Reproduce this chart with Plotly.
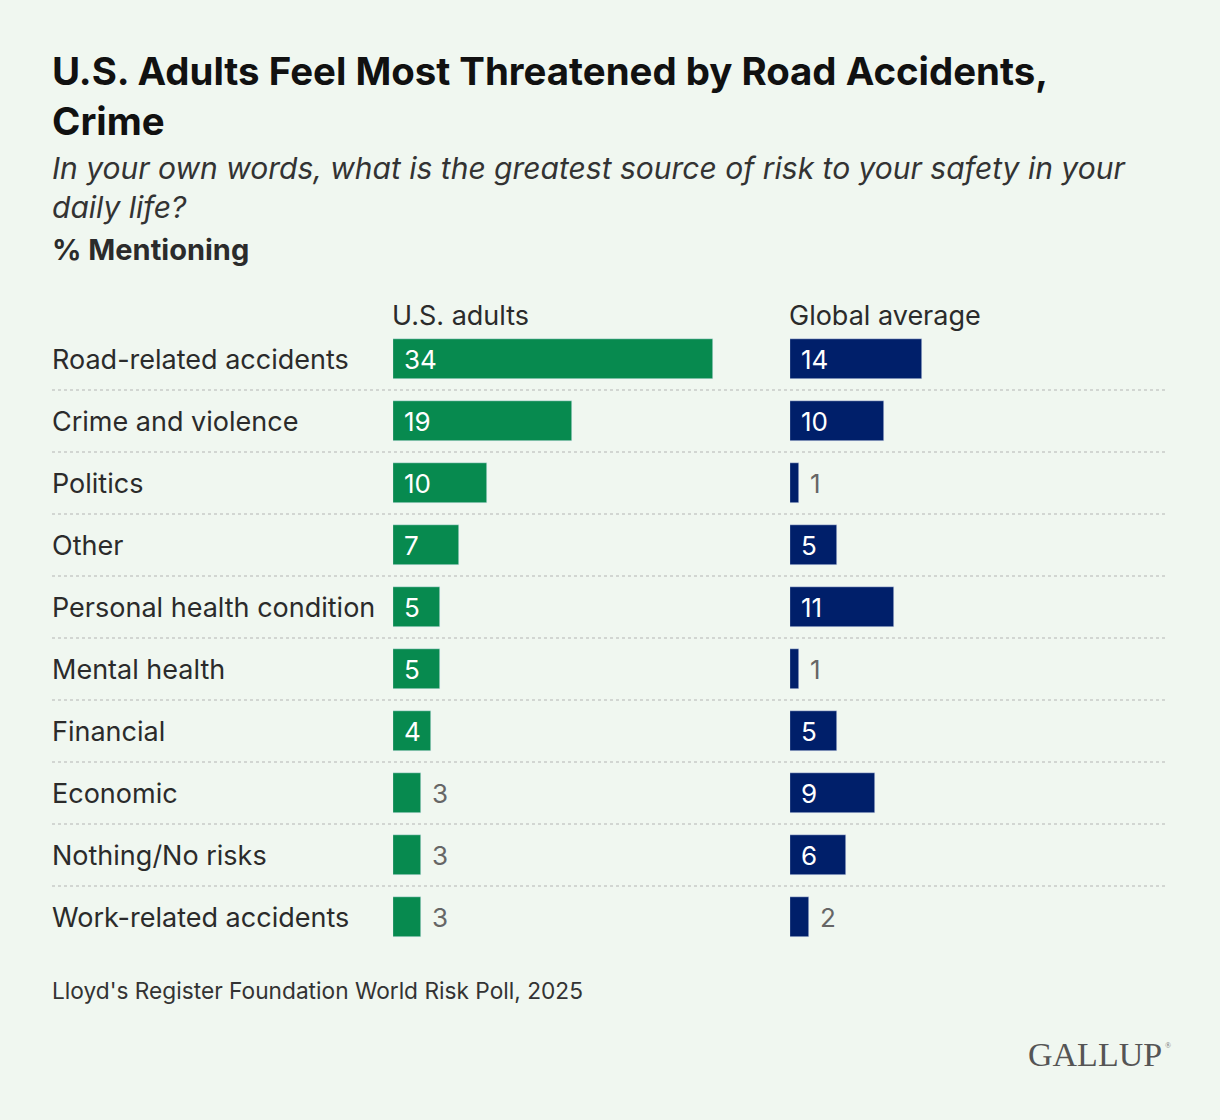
import plotly.graph_objects as go
from plotly.subplots import make_subplots

# data
categories = ["Road-related accidents", "Crime and violence", "Politics", "Other",
              "Personal health condition", "Mental health", "Financial", "Economic",
              "Nothing/No risks", "Work-related accidents"]
us_adults = [34, 19, 10, 7, 5, 5, 4, 3, 3, 3]
global_avg = [14, 10, 1, 5, 11, 1, 5, 9, 6, 2]

W, H = 1220, 1120
BG = "#f0f7f0"
GREEN = "#078a4f"
BLUE = "#001f6a"
FONT = "Inter"
PX = 9.41  # pixels per percentage point

fig = make_subplots(rows=1, cols=2, shared_yaxes=True, horizontal_spacing=0)

fig.add_trace(go.Bar(y=categories, x=us_adults, orientation="h", marker_color=GREEN,
                     width=0.645, hoverinfo="x+y"), row=1, col=1)
fig.add_trace(go.Bar(y=categories, x=global_avg, orientation="h", marker_color=BLUE,
                     width=0.645, hoverinfo="x+y"), row=1, col=2)

x1_0 = 393
x1_r = 38
x2_0 = 790
x2_r = 40
fig.update_xaxes(domain=[x1_0 / W, (x1_0 + PX * x1_r) / W], range=[0, x1_r], row=1, col=1)
fig.update_xaxes(domain=[x2_0 / W, (x2_0 + PX * x2_r) / W], range=[0, x2_r], row=1, col=2)
fig.update_xaxes(visible=False, fixedrange=True)

top, bottom = 328, 948
fig.update_yaxes(domain=[1 - bottom / H, 1 - top / H], range=[9.5, -0.5],
                 categoryorder="array", categoryarray=categories,
                 showticklabels=False, showgrid=False, zeroline=False, fixedrange=True)

annotations = []

# row labels
for c in categories:
    annotations.append(dict(xref="paper", yref="y", x=50 / W, y=c, text=c,
                            xanchor="left", yanchor="middle", showarrow=False,
                            font=dict(family=FONT, size=27, color="#2b2b2b")))

# value labels
def add_values(vals, xref, threshold):
    for c, v in zip(categories, vals):
        if v >= threshold:
            annotations.append(dict(xref=xref, yref="y", x=0, y=c, text=str(v),
                                    xanchor="left", yanchor="middle", xshift=9,
                                    showarrow=False,
                                    font=dict(family=FONT, size=26, color="white")))
        else:
            annotations.append(dict(xref=xref, yref="y", x=v, y=c, text=str(v),
                                    xanchor="left", yanchor="middle", xshift=9,
                                    showarrow=False,
                                    font=dict(family=FONT, size=26, color="#666666")))

add_values(us_adults, "x", 4)
add_values(global_avg, "x2", 3)

# column headers
annotations.append(dict(xref="x domain", yref="paper", x=0, y=1 - 315 / H,
                        text="U.S. adults", xanchor="left", yanchor="middle", xshift=-3,
                        showarrow=False, font=dict(family=FONT, size=27, color="#2b2b2b")))
annotations.append(dict(xref="x2 domain", yref="paper", x=0, y=1 - 315 / H,
                        text="Global average", xanchor="left", yanchor="middle", xshift=-3,
                        showarrow=False, font=dict(family=FONT, size=27, color="#2b2b2b")))

# titles
annotations.append(dict(xref="paper", yref="paper", x=50 / W, y=1 - 46 / H,
                        text="<b>U.S. Adults Feel Most Threatened by Road Accidents,<br>Crime</b>",
                        xanchor="left", yanchor="top", align="left", showarrow=False,
                        font=dict(family=FONT, size=38.4, color="#111111")))
annotations.append(dict(xref="paper", yref="paper", x=50 / W, y=1 - 148 / H,
                        text="<i>In your own words, what is the greatest source of risk to your safety in your<br>daily life?</i>",
                        xanchor="left", yanchor="top", align="left", showarrow=False,
                        font=dict(family=FONT, size=30, color="#333333")))
annotations.append(dict(xref="paper", yref="paper", x=50 / W, y=1 - 249 / H,
                        text="<b>% Mentioning</b>", xanchor="left", yanchor="middle",
                        showarrow=False, font=dict(family=FONT, size=29, color="#2b2b2b")))

# source and logo
annotations.append(dict(xref="paper", yref="paper", x=50 / W, y=1 - 990 / H,
                        text="Lloyd's Register Foundation World Risk Poll, 2025",
                        xanchor="left", yanchor="middle", showarrow=False,
                        font=dict(family=FONT, size=22.7, color="#333333")))
annotations.append(dict(xref="paper", yref="paper", x=1164 / W, y=1 - 1054 / H,
                        text="GALLUP", xanchor="right", yanchor="middle", showarrow=False,
                        font=dict(family="Liberation Serif", size=34, color="#555555")))
annotations.append(dict(xref="paper", yref="paper", x=1163 / W, y=1 - 1045 / H,
                        text="®", xanchor="left", yanchor="middle", showarrow=False,
                        font=dict(family="Liberation Serif", size=8, color="#777777")))

# dotted separators
shapes = []
for i in range(len(categories) - 1):
    shapes.append(dict(type="line", xref="paper", yref="y", x0=52 / W, x1=1168 / W,
                       y0=i + 0.5, y1=i + 0.5,
                       line=dict(color="#d2d6d2", width=2, dash="dot")))

fig.update_layout(
    width=W, height=H,
    margin=dict(l=0, r=0, t=0, b=0),
    paper_bgcolor=BG, plot_bgcolor=BG,
    showlegend=False, bargap=0,
    annotations=annotations, shapes=shapes,
)

fig.write_html("out.html", config={"displayModeBar": False},
               post_script="document.body.style.margin='0';")
